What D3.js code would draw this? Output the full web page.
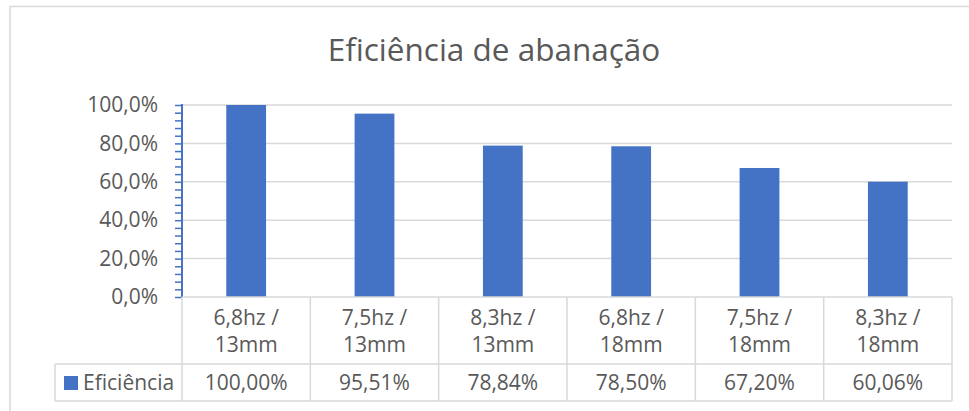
<!DOCTYPE html>
<html>
<head>
<meta charset="utf-8">
<script src="https://cdnjs.cloudflare.com/ajax/libs/d3/7.8.5/d3.min.js"></script>
<style>
  body { margin: 0; background: #fff; }
  text { font-family: "Open Sans", "Noto Sans", sans-serif; fill: #595959; }
</style>
</head>
<body>
<div id="chart"></div>
<script>
// Data
var categories = ["6,8hz / 13mm", "7,5hz / 13mm", "8,3hz / 13mm", "6,8hz / 18mm", "7,5hz / 18mm", "8,3hz / 18mm"];
var catLines = [["6,8hz /", "13mm"], ["7,5hz /", "13mm"], ["8,3hz /", "13mm"], ["6,8hz /", "18mm"], ["7,5hz /", "18mm"], ["8,3hz /", "18mm"]];
var efficiency = [1.0, 0.9551, 0.7884, 0.7850, 0.6720, 0.6006];
var tableLabels = ["100,00%", "95,51%", "78,84%", "78,50%", "67,20%", "60,06%"];
var yTicks = [0, 0.2, 0.4, 0.6, 0.8, 1.0];
var seriesName = "Eficiência";
var title = "Eficiência de abanação";

var svgWidth = 969;
var svgHeight = 411;

var margin = { top: 105, right: 17, bottom: 114, left: 182 };
var width = svgWidth - margin.left - margin.right;
var height = svgHeight - margin.top - margin.bottom;

var blue = "#4472c4";
var grid = "#d9d9d9";
var fontSize = "21px";

var svg = d3.select("#chart").append("svg")
    .attr("width", svgWidth)
    .attr("height", svgHeight);

// chart outer border
svg.append("rect")
    .attr("x", 10).attr("y", 6.5)
    .attr("width", 980).attr("height", 420)
    .attr("fill", "none")
    .attr("stroke", grid)
    .attr("stroke-width", 1.5);

// title
svg.append("text")
    .attr("x", 494)
    .attr("y", 61)
    .attr("text-anchor", "middle")
    .style("font-size", "31.5px")
    .text(title);

var chartGroup = svg.append("g")
    .attr("transform", `translate(${margin.left}, ${margin.top})`);

var x = d3.scaleBand()
    .domain(categories)
    .range([0, width])
    .padding(0);

var y = d3.scaleLinear()
    .domain([0, 1])
    .range([height, 0]);

var fmt = d => d3.format(".1f")(d * 100).replace(".", ",") + "%";

// gridlines
chartGroup.selectAll(".grid")
    .data(yTicks.slice(1))
    .enter().append("line")
    .attr("x1", 0).attr("x2", width)
    .attr("y1", d => y(d)).attr("y2", d => y(d))
    .attr("stroke", grid)
    .attr("stroke-width", 1.5);

// bars
var barW = x.bandwidth() * 0.31;
chartGroup.selectAll(".bar")
    .data(efficiency)
    .enter().append("rect")
    .attr("x", (d, i) => x(categories[i]) + (x.bandwidth() - barW) / 2)
    .attr("y", d => y(d))
    .attr("width", barW)
    .attr("height", d => height - y(d))
    .attr("fill", blue);

// y axis: minor ticks + labels
var minorAxis = d3.axisLeft(y)
    .tickValues(d3.range(0, 1.0001, 0.04))
    .tickSize(7)
    .tickFormat("");
var minorG = chartGroup.append("g").call(minorAxis);
minorG.selectAll("line").attr("stroke", blue).attr("stroke-width", 1.5);
minorG.select(".domain").remove();

var labelAxis = d3.axisLeft(y)
    .tickValues(yTicks)
    .tickSize(0)
    .tickPadding(24)
    .tickFormat(fmt);
var labelG = chartGroup.append("g").call(labelAxis);
labelG.select(".domain").remove();
labelG.selectAll("text")
    .style("font-size", fontSize)
    .style("font-family", "'Open Sans', sans-serif")
    .attr("fill", "#595959");

chartGroup.append("line")
    .attr("x1", 0).attr("x2", 0)
    .attr("y1", -1).attr("y2", height)
    .attr("stroke", blue)
    .attr("stroke-width", 2);

// data table below the plot
var rowTop = height;          // 297
var rowMid = height + 67;     // 364
var rowBot = height + 104;    // 401
var legendLeft = 55 - margin.left;

var tableG = chartGroup.append("g");

[rowTop, rowMid, rowBot].forEach(function(yy, k) {
    tableG.append("line")
        .attr("x1", k === 0 ? 0 : legendLeft).attr("x2", width)
        .attr("y1", yy).attr("y2", yy)
        .attr("stroke", grid).attr("stroke-width", 1.5);
});

var bounds = categories.map(c => x(c)).concat([width]);
tableG.selectAll(".vline")
    .data(bounds)
    .enter().append("line")
    .attr("x1", d => d).attr("x2", d => d)
    .attr("y1", rowTop).attr("y2", rowBot)
    .attr("stroke", grid).attr("stroke-width", 1.5);

tableG.append("line")
    .attr("x1", legendLeft).attr("x2", legendLeft)
    .attr("y1", rowMid).attr("y2", rowBot)
    .attr("stroke", grid).attr("stroke-width", 1.5);

// category labels (two lines each)
catLines.forEach(function(lines, i) {
    var cx = x(categories[i]) + x.bandwidth() / 2;
    lines.forEach(function(t, j) {
        tableG.append("text")
            .attr("x", cx)
            .attr("y", rowTop + 28 + j * 27)
            .attr("text-anchor", "middle")
            .style("font-size", fontSize)
            .text(t);
    });
});

// value row
tableLabels.forEach(function(t, i) {
    tableG.append("text")
        .attr("x", x(categories[i]) + x.bandwidth() / 2)
        .attr("y", rowMid + 26)
        .attr("text-anchor", "middle")
        .style("font-size", fontSize)
        .text(t);
});

// legend key
tableG.append("rect")
    .attr("x", 64 - margin.left)
    .attr("y", rowMid + 12)
    .attr("width", 14).attr("height", 14)
    .attr("fill", blue);
tableG.append("text")
    .attr("x", 83 - margin.left)
    .attr("y", rowMid + 26)
    .style("font-size", fontSize)
    .text(seriesName);
</script>
</body>
</html>
